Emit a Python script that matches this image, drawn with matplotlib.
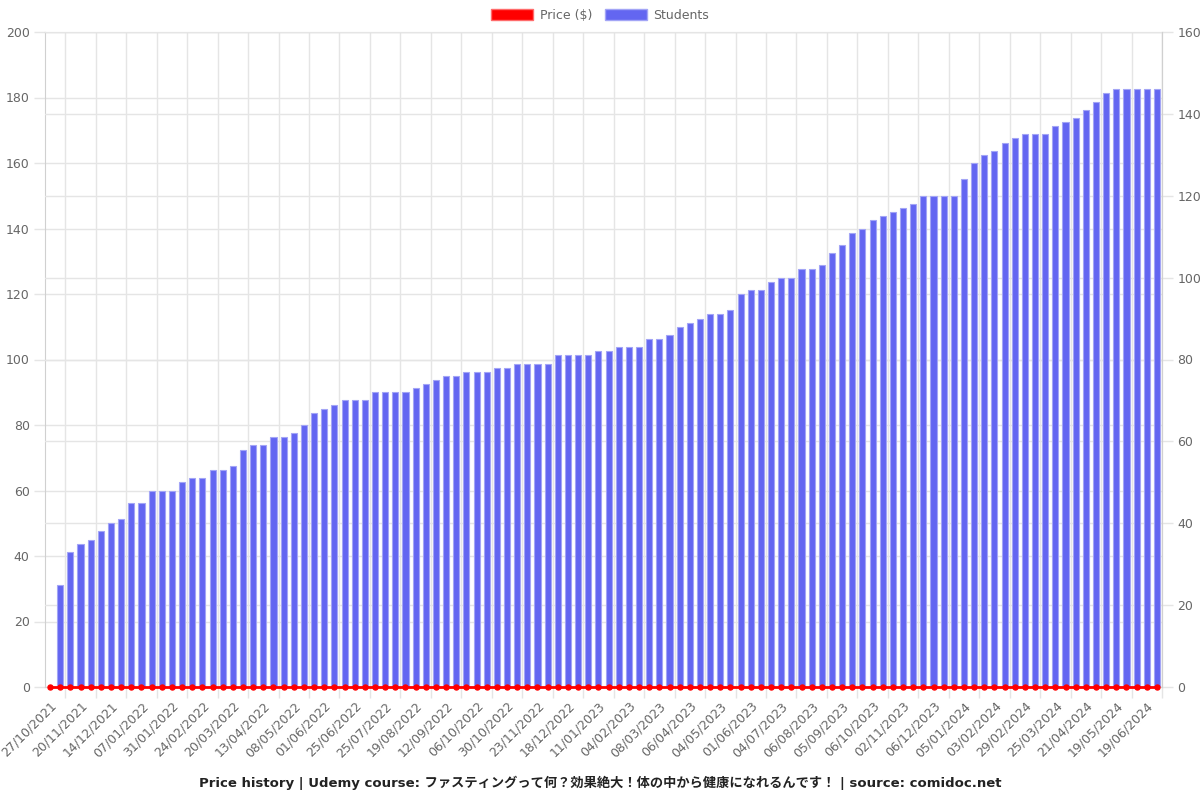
import matplotlib
matplotlib.use('Agg')
import matplotlib.pyplot as plt
import numpy as np
from matplotlib.patches import Patch

# ---- data ----
tick_labels = [
    "27/10/2021", "20/11/2021", "14/12/2021", "07/01/2022", "31/01/2022",
    "24/02/2022", "20/03/2022", "13/04/2022", "08/05/2022", "01/06/2022",
    "25/06/2022", "25/07/2022", "19/08/2022", "12/09/2022", "06/10/2022",
    "30/10/2022", "23/11/2022", "18/12/2022", "11/01/2023", "04/02/2023",
    "08/03/2023", "06/04/2023", "04/05/2023", "01/06/2023", "04/07/2023",
    "06/08/2023", "05/09/2023", "06/10/2023", "02/11/2023", "06/12/2023",
    "05/01/2024", "03/02/2024", "29/02/2024", "25/03/2024", "21/04/2024",
    "19/05/2024", "19/06/2024",
]

students = [
    None, 25, 33, 35, 36, 38, 40, 41, 45, 45,
    48, 48, 48, 50, 51, 51, 53, 53, 54, 58,
    59, 59, 61, 61, 62, 64, 67, 68, 69, 70,
    70, 70, 72, 72, 72, 72, 73, 74, 75, 76,
    76, 77, 77, 77, 78, 78, 79, 79, 79, 79,
    81, 81, 81, 81, 82, 82, 83, 83, 83, 85,
    85, 86, 88, 89, 90, 91, 91, 92, 96, 97,
    97, 99, 100, 100, 102, 102, 103, 106, 108, 111,
    112, 114, 115, 116, 117, 118, 120, 120, 120, 120,
    124, 128, 130, 131, 133, 134, 135, 135, 135, 137,
    138, 139, 141, 143, 145, 146, 146, 146, 146, 146,
]

price = [
    0, 0, 0, 0, 0, 0, 0, 0, 0, 0,
    0, 0, 0, 0, 0, 0, 0, 0, 0, 0,
    0, 0, 0, 0, 0, 0, 0, 0, 0, 0,
    0, 0, 0, 0, 0, 0, 0, 0, 0, 0,
    0, 0, 0, 0, 0, 0, 0, 0, 0, 0,
    0, 0, 0, 0, 0, 0, 0, 0, 0, 0,
    0, 0, 0, 0, 0, 0, 0, 0, 0, 0,
    0, 0, 0, 0, 0, 0, 0, 0, 0, 0,
    0, 0, 0, 0, 0, 0, 0, 0, 0, 0,
    0, 0, 0, 0, 0, 0, 0, 0, 0, 0,
    0, 0, 0, 0, 0, 0, 0, 0, 0, 0,
]

title = ("Price history | Udemy course: "
         "ファスティングって何？効果絶大！体の中から健康になれるんです！"
         " | source: comidoc.net")

plt.rcParams['font.family'] = ['DejaVu Sans', 'Noto Sans CJK JP']

GRID = '#e5e5e5'
TXT = '#666666'
BAR = '#6366f1'
BAR_EDGE = '#a3a5f6'

fig = plt.figure(figsize=(12, 8), dpi=100)
pos = [45 / 1200, 113 / 800, 1117 / 1200, 655 / 800]
ax = fig.add_axes(pos)          # price scale (left), grid
ax2 = ax.twinx()                # students scale (right)
ax3 = fig.add_axes(pos, sharex=ax, sharey=ax)  # price line on top

n = len(students)
x = np.arange(n)
s = np.array([np.nan if v is None else v for v in students], dtype=float)

ax2.bar(x, s, width=0.6, color=BAR, edgecolor=BAR_EDGE, linewidth=0.8, zorder=2)
ax3.plot(x, price, color='red', lw=2.0, marker='o', ms=3.6, zorder=3,
         clip_on=False)

# x axis
ax.set_xlim(-0.5, n - 0.5)
ax.set_xticks(x[::3])
ax.set_xticklabels(tick_labels, rotation=45, ha='right', rotation_mode='anchor',
                   fontsize=9, color=TXT)
ax.set_xticks(np.arange(1.5, n, 3), minor=True)
ax.tick_params(axis='x', which='major', length=0, pad=9)
ax.tick_params(axis='x', which='minor', length=8, color=GRID, width=1)
ax.grid(axis='x', which='minor', color=GRID, lw=1, alpha=1)

# left y axis
ax.set_ylim(0, 200)
ax.set_yticks(np.arange(0, 201, 20))
ax.tick_params(axis='y', length=8, color=GRID, width=1, labelsize=9,
               labelcolor=TXT, pad=3)
ax.grid(axis='y', color=GRID, lw=1, alpha=1)
ax.set_axisbelow(True)

# right y axis
ax2.set_ylim(0, 160)
ax2.set_yticks(np.arange(0, 161, 20))
ax2.tick_params(axis='y', length=8, color=GRID, width=1, labelsize=9,
                labelcolor=TXT, pad=3)
ax2.grid(axis='y', color=GRID, lw=1, alpha=1)
ax2.set_axisbelow(True)
ax2.patch.set_visible(False)

for sp in ax.spines.values():
    sp.set_color('#d0d0d0')
for sp in ax2.spines.values():
    sp.set_visible(False)
ax2.spines['right'].set_visible(True)
ax2.spines['right'].set_color('#d0d0d0')

ax3.axis('off')
ax3.patch.set_visible(False)

handles = [Patch(facecolor='red', edgecolor='#ff6b6b', lw=1),
           Patch(facecolor=BAR, edgecolor=BAR_EDGE, lw=1)]
leg = fig.legend(handles, ['Price ($)', 'Students'], loc='upper center',
                 bbox_to_anchor=(0.5, 1.0), ncol=2, frameon=False,
                 handlelength=3.4, handleheight=1.0, fontsize=9,
                 columnspacing=1.0, handletextpad=0.5, borderaxespad=0.3)
for t in leg.get_texts():
    t.set_color(TXT)

fig.text(0.5, 1 - 783 / 800, title, ha='center', va='center', fontsize=9.5,
         fontweight='bold', color='#222222')

fig.savefig('out.png', dpi=100)
